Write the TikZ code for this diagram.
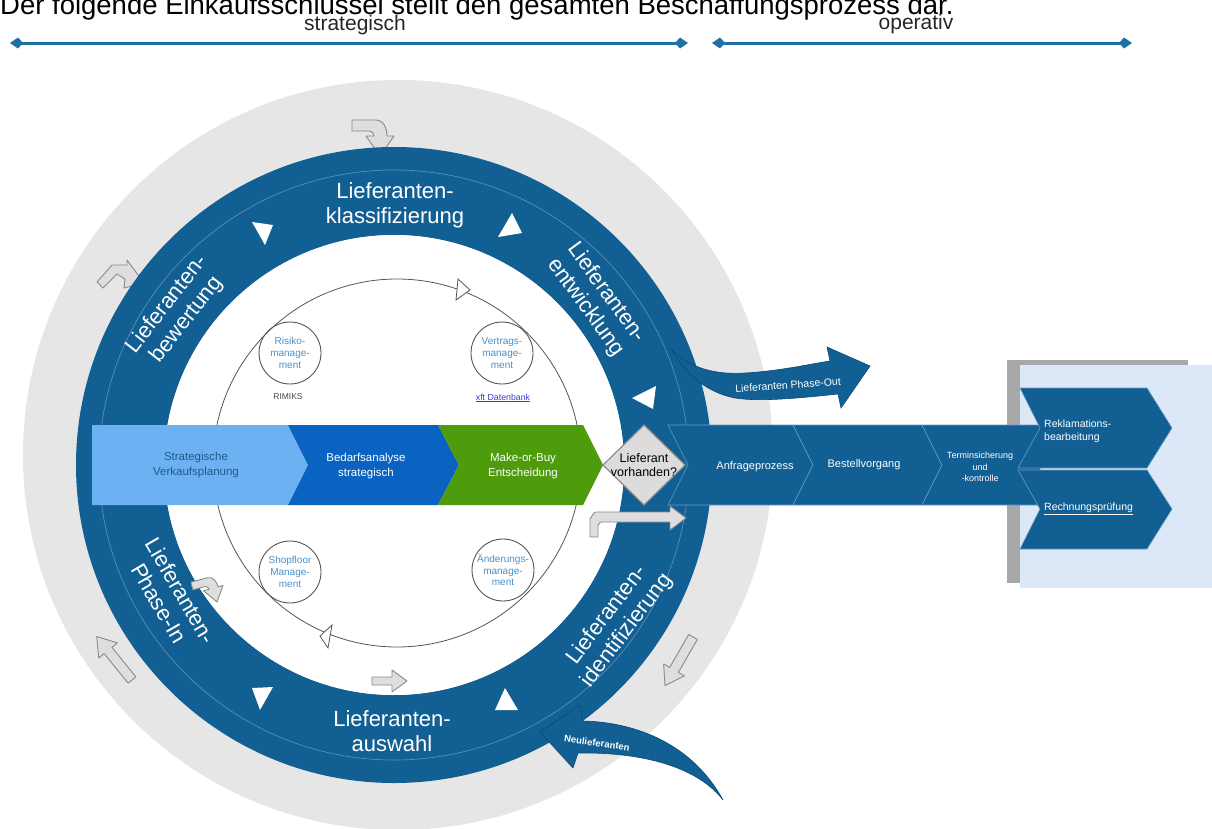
\documentclass[tikz,border=0pt]{standalone}
\usepackage{fontspec}
\setmainfont{Liberation Sans}
\usetikzlibrary{arrows.meta}
\definecolor{grayc}{HTML}{E6E6E6}
\definecolor{ring}{HTML}{115F93}
\definecolor{ringline}{HTML}{5B8EB8}
\definecolor{lightchev}{HTML}{6CB2F2}
\definecolor{darkchev}{HTML}{0B63C1}
\definecolor{greenchev}{HTML}{4E9B0C}
\definecolor{diamondfill}{HTML}{DCDCDC}
\definecolor{diamondline}{HTML}{8C8C8C}
\definecolor{boxblue}{HTML}{DCE8F7}
\definecolor{shadowgray}{HTML}{A8A8A8}
\definecolor{sepline}{HTML}{6B9AC4}
\definecolor{topblue}{HTML}{2070A8}
\definecolor{arrowgray}{HTML}{DEDEDE}
\definecolor{arrowline}{HTML}{8A8A8A}
\definecolor{circline}{HTML}{555555}
\definecolor{smallblue}{HTML}{4A90C8}
\definecolor{linkblue}{HTML}{3C3CCF}
\definecolor{stratblue}{HTML}{1F5A8C}
\definecolor{darkedge}{HTML}{0B4A75}
\begin{document}
\begin{tikzpicture}[x=1pt,y=-1pt,
  garrow/.style={fill=arrowgray, draw=arrowline, line width=0.9pt, line join=round},
  ringtxt/.style={text=white, font=\fontsize{22}{25}\selectfont, align=center, inner sep=0pt},
  bartxt/.style={font=\fontsize{11.5}{14.5}\selectfont, align=center, inner sep=0pt},
  optxt/.style={text=white, font=\fontsize{11}{13}\selectfont, align=center, inner sep=0pt},
  smallc/.style={circle, draw=circline, line width=0.9pt, minimum size=62pt, inner sep=0pt,
     text=smallblue, font=\fontsize{10}{11.7}\selectfont, align=center},
  opchev/.style={fill=ring, draw=sepline, line width=0.6pt},
  bluearrow/.style={fill=ring, draw=darkedge, line width=0.6pt},
  toparrow/.style={draw=topblue, line width=3pt,
     arrows={Kite[length=13pt,width=11pt,inset=5pt]-Kite[length=13pt,width=11pt,inset=5pt]}},
  toplabel/.style={font=\fontsize{21}{24}\selectfont, text=black!85, inner sep=0pt}
]
\useasboundingbox (0,0) rectangle (1212,828);
\clip (0,0) rectangle (1212,828);
\fill[white] (0,0) rectangle (1212,828);

% title and phase arrows
\node[anchor=base west, inner sep=0pt, font=\fontsize{27.5}{30}\selectfont] (title) at (0,14)
  {Der folgende Einkaufsschlüssel stellt den gesamten Beschaffungsprozess dar.};
\node[toplabel] (strat) at (355,25) {strategisch};
\node[toplabel] (oper) at (916,24) {operativ};
\coordinate (s1) at (10,43); \coordinate (s2) at (688,43);
\coordinate (o1) at (712,43); \coordinate (o2) at (1132,43);
\draw[toparrow] (s1) -- (s2);
\draw[toparrow] (o1) -- (o2);

% gray disc
\fill[grayc] (398,455) circle (375pt);

% outline arrows in the gray zone
\draw[garrow, shift={(380,156)}] (-28,-36) -- (-4,-36) to[out=0,in=90] (7,-20) -- (14,-20) -- (0,0)
  -- (-14,-20) -- (-6,-20) to[out=90,in=0] (-11,-25) -- (-28,-25) -- cycle;
\draw[garrow] (97,282) -- (112,265) -- (127,265) -- (127,260) -- (144,283) -- (124,288)
  -- (125,279) -- (117,274) -- (103,288) -- cycle;
\draw[garrow, shift={(132,680)}, rotate=129] (0,-5) -- (38,-5) -- (38,-12) -- (56,0)
  -- (38,12) -- (38,5) -- (0,5) -- cycle;
\draw[garrow, shift={(693,637)}, rotate=-120] (0,-5) -- (38,-5) -- (38,-12) -- (56,0)
  -- (38,12) -- (38,5) -- (0,5) -- cycle;

% blue ring with white interior
\fill[ring, even odd rule] (394,465) circle (318pt) (394,465) circle (230pt);
\fill[white] (394,465) circle (230pt);
\draw[ringline, line width=0.7pt] (394,465) circle (295pt);

% Phase-Out arrow
\draw[bluearrow] (672,350) .. controls (690,368) and (715,375) .. (745,373)
  .. controls (780,371) and (810,364) .. (830,361) -- (827,347) -- (870,366) -- (841,408)
  -- (838,394) .. controls (800,398) and (760,402) .. (735,398)
  .. controls (710,393) and (688,378) .. (672,350) -- cycle;
\node[text=white, font=\fontsize{10.5}{12}\selectfont, rotate=4, inner sep=0pt] (po) at (788,385) {Lieferanten Phase-Out};

% Neulieferanten arrow
\draw[bluearrow] (540,732) -- (580,705) -- (583,721) .. controls (630,722) and (690,740) .. (723,800)
  .. controls (700,770) and (650,752) .. (578,753) -- (573,768) -- cycle;
\node[text=white, font=\bfseries\fontsize{9.5}{11}\selectfont, rotate=-8, inner sep=0pt] (nl) at (597,743) {Neulieferanten};

% white triangles in the ring
\fill[white] (252,222) -- (273,225) -- (265,245) -- cycle;
\fill[white] (498,237) -- (522,233) -- (512,213) -- cycle;
\fill[white] (632,398) -- (656,386) -- (653,409) -- cycle;
\fill[white] (252,688) -- (273,687) -- (260,710) -- cycle;
\fill[white] (495,710) -- (518,710) -- (505,688) -- cycle;

% ring labels
\node[ringtxt] (lk) at (395,205) {Lieferanten-\\klassifizierung};
\node[ringtxt, rotate=52] (lb) at (177,312) {Lieferanten-\\bewertung};
\node[ringtxt, rotate=-54] (le) at (596,300) {Lieferanten-\\entwicklung};
\node[ringtxt, rotate=-60] (lp) at (170,597) {Lieferanten-\\Phase-In};
\node[ringtxt] (la) at (392,731) {Lieferanten-\\auswahl};
\node[ringtxt, rotate=53] (li) at (617,623) {Lieferanten-\\identifizierung};

% inner cycle
\draw[circline, line width=0.8pt] (397,463) circle (184pt);
\filldraw[fill=white, draw=circline, line width=0.8pt] (470,290) -- (458,279) -- (456,300) -- cycle;
\filldraw[fill=white, draw=circline, line width=0.8pt] (320,636) -- (332,625) -- (328,648) -- cycle;
\node[smallc] (risiko) at (290,353) {Risiko-\\manage-\\ment};
\node[smallc] (vertrag) at (502,353) {Vertrags-\\manage-\\ment};
\node[smallc] (shop) at (290,572) {Shopfloor\\Manage-\\ment};
\node[smallc] (aender) at (503,570) {Änderungs-\\manage-\\ment};
\node[font=\fontsize{8.5}{10}\selectfont, text=black!70, inner sep=0pt] (rimiks) at (288,397) {RIMIKS};
\node[font=\fontsize{8.8}{10}\selectfont, text=linkblue, inner sep=0pt] (xft) at (503,398) {\underline{xft Datenbank}};

% inner outline arrows
\draw[garrow, shift={(217,602)}, rotate=15, scale=0.72] (-28,-36) -- (-4,-36) to[out=0,in=90] (7,-20) -- (14,-20) -- (0,0)
  -- (-14,-20) -- (-6,-20) to[out=90,in=0] (-11,-25) -- (-28,-25) -- cycle;
\draw[garrow, shift={(372,681)}] (0,-4) -- (20,-4) -- (20,-11) -- (35,0)
  -- (20,11) -- (20,4) -- (0,4) -- cycle;
\draw[garrow] (590,537) -- (590,518) to[out=-90,in=180] (596,512) -- (670,512) -- (670,506)
  -- (686,518) -- (670,530) -- (670,522) -- (601,522) to[out=180,in=-90] (598,525) -- (598,537) -- cycle;

% right box background
\fill[shadowgray] (1007,360) rectangle (1188,583);
\fill[boxblue] (1020,365) rectangle (1212,588);

% operative chevrons
\draw[opchev] (668,425) -- (793,425) -- (813,465) -- (793,505) -- (668,505) -- (688,465) -- cycle;
\draw[opchev] (793,425) -- (922,425) -- (942,465) -- (922,505) -- (793,505) -- (813,465) -- cycle;
\draw[opchev] (922,425) -- (1040,425) -- (1040,505) -- (922,505) -- (942,465) -- cycle;
\node[optxt] (anf) at (755,467) {Anfrageprozess};
\node[optxt] (best) at (864,465) {Bestellvorgang};
\node[text=white, font=\fontsize{9}{11.5}\selectfont, align=center, inner sep=0pt] (term) at (980,467) {Terminsicherung\\und\\-kontrolle};

% right chevrons
\draw[opchev] (1020,388) -- (1147,388) -- (1172,428) -- (1147,468) -- (1018,468) -- (1040,428) -- cycle;
\draw[opchev] (1018,470) -- (1147,470) -- (1172,509) -- (1147,549) -- (1020,549) -- (1040,509) -- cycle;
\node[text=white, font=\fontsize{10.5}{13}\selectfont, align=left, anchor=west, inner sep=0pt] (rekl) at (1044,431) {Reklamations-\\bearbeitung};
\node[text=white, font=\fontsize{10.5}{13}\selectfont, anchor=west, inner sep=0pt] (rech) at (1044,509) {\underline{Rechnungsprüfung}};

% strategic chevrons
\fill[lightchev] (92,425) -- (288,425) -- (308,465) -- (288,505) -- (92,505) -- cycle;
\fill[darkchev] (288,425) -- (438,425) -- (459,465) -- (438,505) -- (288,505) -- (308,465) -- cycle;
\fill[greenchev] (438,425) -- (583,425) -- (603,465) -- (583,505) -- (438,505) -- (459,465) -- cycle;
\node[bartxt, text=stratblue] (sv) at (196,465) {Strategische\\Verkaufsplanung};
\node[bartxt, text=white] (ba) at (366,466) {Bedarfsanalyse\\strategisch};
\node[bartxt, text=white] (mb) at (523,466) {Make-or-Buy\\Entscheidung};

% decision diamond
\filldraw[fill=diamondfill, draw=diamondline, line width=1.2pt] (644,425) -- (685,465) -- (644,505) -- (603,465) -- cycle;
\node[font=\fontsize{12.5}{14}\selectfont, align=center, inner sep=0pt] (lv) at (644,465) {Lieferant\\vorhanden?};
\end{tikzpicture}
\end{document}
